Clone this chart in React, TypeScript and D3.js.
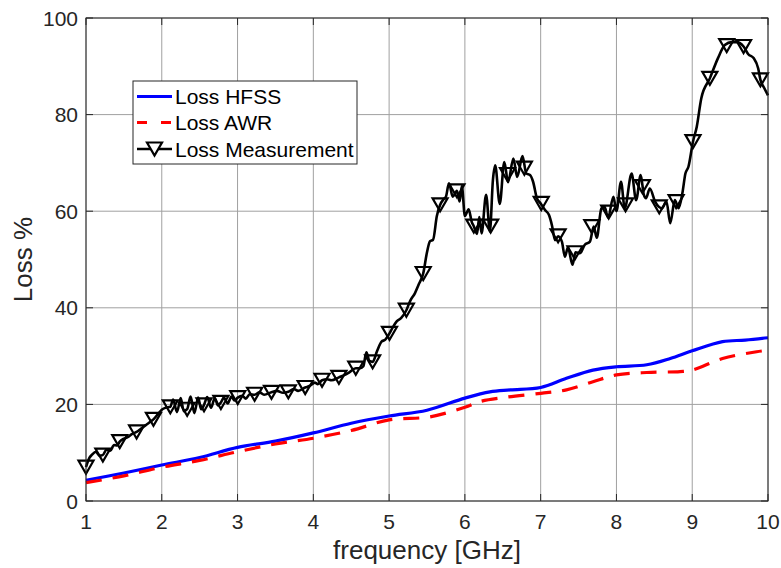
import React from 'react';
import * as d3 from 'd3';

// ---- data ----
const xTicks = [1, 2, 3, 4, 5, 6, 7, 8, 9, 10];
const yTicks = [0, 20, 40, 60, 80, 100];

const hfssFreq = [1, 1.5, 2, 2.5, 3, 3.5, 4, 4.5, 5, 5.5, 6, 6.33, 6.6, 7, 7.34, 7.69, 8, 8.4, 8.71, 9, 9.4, 9.7, 10];
const hfssLoss = [4.3, 5.8, 7.45, 9.0, 11.1, 12.4, 14.1, 16.1, 17.6, 18.8, 21.3, 22.6, 23.0, 23.5, 25.4, 27.1, 27.8, 28.2, 29.5, 31.1, 33.0, 33.3, 33.8];

const awrFreq = [1, 1.5, 2, 2.5, 3, 3.5, 4, 4.5, 5, 5.53, 6, 6.2, 6.55, 7, 7.34, 7.69, 8, 8.4, 8.84, 9, 9.4, 9.85, 10];
const awrLoss = [3.8, 5.2, 7.0, 8.4, 10.2, 11.8, 13.0, 14.6, 16.8, 17.4, 19.4, 20.6, 21.5, 22.3, 23.0, 24.7, 26.1, 26.6, 26.8, 27.1, 29.5, 30.9, 31.2];

const measFreq = [
  1.0, 1.04, 1.08, 1.13, 1.18, 1.22, 1.27, 1.32, 1.37, 1.41, 1.445, 1.5, 1.55, 1.6, 1.6675, 1.72, 1.78, 1.84, 1.89, 1.95,
  2.0, 2.05, 2.1125, 2.15, 2.2, 2.25, 2.29, 2.335, 2.38, 2.43, 2.48, 2.52, 2.5575, 2.6, 2.65, 2.7, 2.74, 2.78, 2.82, 2.87,
  2.92, 2.96, 3.0025, 3.06, 3.11, 3.16, 3.225, 3.29, 3.35, 3.4475, 3.52, 3.6, 3.67, 3.74, 3.8, 3.8925, 3.95, 4.02, 4.06, 4.115,
  4.18, 4.24, 4.3375, 4.4, 4.47, 4.56, 4.62, 4.66, 4.7, 4.74, 4.7825, 4.84, 4.9, 4.95, 5.005, 5.05, 5.1, 5.16, 5.2275, 5.28,
  5.34, 5.39, 5.45, 5.5, 5.54, 5.58, 5.63, 5.6725, 5.72, 5.75, 5.79, 5.84, 5.895, 5.93, 5.96, 6.0, 6.05, 6.09, 6.1175, 6.16,
  6.19, 6.22, 6.28, 6.33, 6.37, 6.4, 6.46, 6.52, 6.57, 6.64, 6.69, 6.76, 6.81, 6.86, 6.9, 6.95, 7.0, 7.06, 7.11, 7.15,
  7.19, 7.23, 7.28, 7.32, 7.36, 7.42, 7.46, 7.52, 7.58, 7.65, 7.7, 7.74, 7.8, 7.84, 7.89, 7.96, 8.0, 8.06, 8.11, 8.2,
  8.26, 8.32, 8.36, 8.39, 8.44, 8.51, 8.56, 8.6, 8.66, 8.71, 8.77, 8.82, 8.87, 8.91, 8.95, 9.01, 9.06, 9.12, 9.2325, 9.34,
  9.43, 9.52, 9.59, 9.6775, 9.74, 9.81, 9.87, 9.9, 9.95, 10.0,
];
const measLoss = [
  7.0, 8.8, 9.6, 10.2, 9.4, 9.5, 10.6, 10.4, 11.6, 11.5, 12.3, 12.9, 13.2, 13.8, 14.3, 14.9, 15.6, 16.3, 16.9, 18.0,
  18.9, 19.3, 19.5, 21.0, 18.4, 21.3, 18.6, 19.0, 21.6, 18.2, 21.4, 19.0, 19.9, 21.5, 19.3, 21.3, 19.8, 20.4, 21.4, 20.2,
  21.6, 20.8, 21.4, 21.8, 21.2, 22.1, 22.0, 22.5, 22.0, 22.5, 22.8, 22.4, 22.6, 23.2, 22.8, 23.5, 23.8, 24.5, 24.2, 25.0,
  25.2, 25.0, 25.6, 26.0, 26.6, 27.5, 27.5, 27.9, 30.8, 29.0, 28.8, 31.0, 33.0, 33.4, 34.7, 36.0, 37.2, 37.9, 39.5, 41.5,
  43.0, 44.8, 47.1, 51.5, 53.8, 54.1, 59.0, 61.3, 62.5, 63.0, 65.8, 63.0, 64.2, 62.0, 65.2, 59.0, 60.4, 57.8, 56.9, 55.3,
  58.8, 55.4, 63.4, 55.8, 66.5, 69.5, 61.5, 70.2, 66.0, 70.9, 67.1, 71.4, 67.8, 67.5, 66.1, 62.7, 61.6, 60.2, 59.2, 57.0,
  54.0, 54.8, 53.7, 50.6, 52.5, 48.9, 51.5, 51.3, 53.0, 53.7, 56.8, 54.5, 60.5, 61.0, 58.7, 63.0, 60.0, 66.1, 60.6, 67.8,
  62.3, 67.5, 63.5, 62.7, 64.7, 62.0, 60.9, 60.6, 62.0, 57.5, 62.3, 60.6, 63.7, 67.8, 69.2, 74.4, 77.5, 83.4, 87.5, 91.7,
  94.4, 95.0, 95.0, 94.1, 92.5, 91.7, 89.6, 87.2, 85.5, 84.0,
];

const markerFreq = [
  1.0, 1.2225, 1.445, 1.6675, 1.89, 2.1125, 2.335, 2.5575, 2.78, 3.0025, 3.225, 3.4475, 3.67, 3.8925, 4.115, 4.3375, 4.56,
  4.7825, 5.005, 5.2275, 5.45, 5.6725, 5.895, 6.1175, 6.34, 6.5625, 6.785, 7.0075, 7.23, 7.4525, 7.675, 7.8975, 8.12,
  8.3425, 8.565, 8.7875, 9.01, 9.2325, 9.455, 9.6775, 9.9,
];
const markerLoss = [
  7.0, 9.5, 12.3, 14.3, 16.9, 19.5, 19.0, 19.9, 20.4, 21.4, 22.1, 22.5, 22.6, 23.5, 25.0, 25.6, 27.5,
  28.8, 34.7, 39.5, 47.1, 61.3, 64.2, 56.9, 56.9, 67.6, 68.9, 61.6, 54.9, 51.4, 56.8, 59.8, 61.3,
  65.1, 60.9, 62.0, 74.4, 87.5, 94.3, 94.1, 87.2,
];

const legendLabels = ['Loss HFSS', 'Loss AWR', 'Loss Measurement'];

// ---- layout ----
const W = 781;
const H = 568;
const m = { left: 86, right: 768, top: 18, bottom: 501 };
const axisColor = '#262626';
const gridColor = '#a0a0a0';
const font = '"Liberation Sans", Arial, Helvetica, sans-serif';

const x = d3.scaleLinear().domain([1, 10]).range([m.left, m.right]);
const y = d3.scaleLinear().domain([0, 100]).range([m.bottom, m.top]);

type P = [number, number];
const zip = (a: number[], b: number[]): P[] => a.map((v, i) => [v, b[i]]);

const smoothLine = d3
  .line<P>()
  .x((d) => x(d[0]))
  .y((d) => y(d[1]))
  .curve(d3.curveCatmullRom.alpha(0.5));

const measLine = d3
  .line<P>()
  .x((d) => x(d[0]))
  .y((d) => y(d[1]))
  .curve(d3.curveMonotoneX);

const tri = (cx: number, cy: number) => {
  const hw = 7.5;
  const hh = 6.5;
  return `M${cx - hw},${cy - hh}L${cx + hw},${cy - hh}L${cx},${cy + hh}Z`;
};

export default function App() {
  const tickLen = 7;
  const legX = 133;
  const legY = 81;
  const legW = 224;
  const legH = 83;
  const rowY = [96.5, 122.5, 149];
  return (
    <svg
      width={W}
      height={H}
      style={{ position: 'absolute', left: 0, top: 0, background: '#fff' }}
      fontFamily={font}
    >
      <rect x={0} y={0} width={W} height={H} fill="#fff" />
      {/* grid */}
      {xTicks.map((t) => (
        <line key={'gx' + t} x1={x(t)} x2={x(t)} y1={m.top} y2={m.bottom} stroke={gridColor} strokeWidth={1} />
      ))}
      {yTicks.map((t) => (
        <line key={'gy' + t} x1={m.left} x2={m.right} y1={y(t)} y2={y(t)} stroke={gridColor} strokeWidth={1} />
      ))}
      {/* ticks */}
      {xTicks.map((t) => (
        <g key={'tx' + t}>
          <line x1={x(t)} x2={x(t)} y1={m.bottom} y2={m.bottom - tickLen} stroke={axisColor} />
          <line x1={x(t)} x2={x(t)} y1={m.top} y2={m.top + tickLen} stroke={axisColor} />
          <text x={x(t)} y={529} textAnchor="middle" fontSize={21} fill={axisColor}>
            {t}
          </text>
        </g>
      ))}
      {yTicks.map((t) => (
        <g key={'ty' + t}>
          <line x1={m.left} x2={m.left + tickLen} y1={y(t)} y2={y(t)} stroke={axisColor} />
          <line x1={m.right} x2={m.right - tickLen} y1={y(t)} y2={y(t)} stroke={axisColor} />
          <text x={78} y={y(t) + 7.5} textAnchor="end" fontSize={21} fill={axisColor}>
            {t}
          </text>
        </g>
      ))}
      {/* data */}
      <path d={smoothLine(zip(hfssFreq, hfssLoss)) || ''} fill="none" stroke="#0000ff" strokeWidth={3.2} />
      <path
        d={smoothLine(zip(awrFreq, awrLoss)) || ''}
        fill="none"
        stroke="#ff0000"
        strokeWidth={3.2}
        strokeDasharray="16 11"
      />
      <path d={measLine(zip(measFreq, measLoss)) || ''} fill="none" stroke="#000" strokeWidth={2.6} strokeLinejoin="round" />
      {markerFreq.map((f, i) => (
        <path key={'mk' + i} d={tri(x(f), y(markerLoss[i]))} fill="none" stroke="#000" strokeWidth={2.2} />
      ))}
      {/* box */}
      <rect
        x={m.left}
        y={m.top}
        width={m.right - m.left}
        height={m.bottom - m.top}
        fill="none"
        stroke={axisColor}
        strokeWidth={1}
      />
      {/* axis labels */}
      <text x={(m.left + m.right) / 2} y={559} textAnchor="middle" fontSize={26} fill={axisColor}>
        frequency [GHz]
      </text>
      <text
        transform={`translate(32,${(m.top + m.bottom) / 2}) rotate(-90)`}
        textAnchor="middle"
        fontSize={26}
        fill={axisColor}
      >
        Loss %
      </text>
      {/* legend */}
      <rect x={legX} y={legY} width={legW} height={legH} fill="#fff" stroke={axisColor} strokeWidth={1} />
      <line x1={137} x2={172} y1={rowY[0]} y2={rowY[0]} stroke="#0000ff" strokeWidth={3.2} />
      <line x1={137} x2={172} y1={rowY[1]} y2={rowY[1]} stroke="#ff0000" strokeWidth={3.2} strokeDasharray="10 14" />
      <line x1={137} x2={172} y1={rowY[2]} y2={rowY[2]} stroke="#000" strokeWidth={2.6} />
      <path d={tri(154.5, rowY[2])} fill="#fff" stroke="#000" strokeWidth={2.2} />
      {legendLabels.map((l, i) => (
        <text key={l} x={175} y={rowY[i] + 7.5} fontSize={21} fill="#000">
          {l}
        </text>
      ))}
    </svg>
  );
}
